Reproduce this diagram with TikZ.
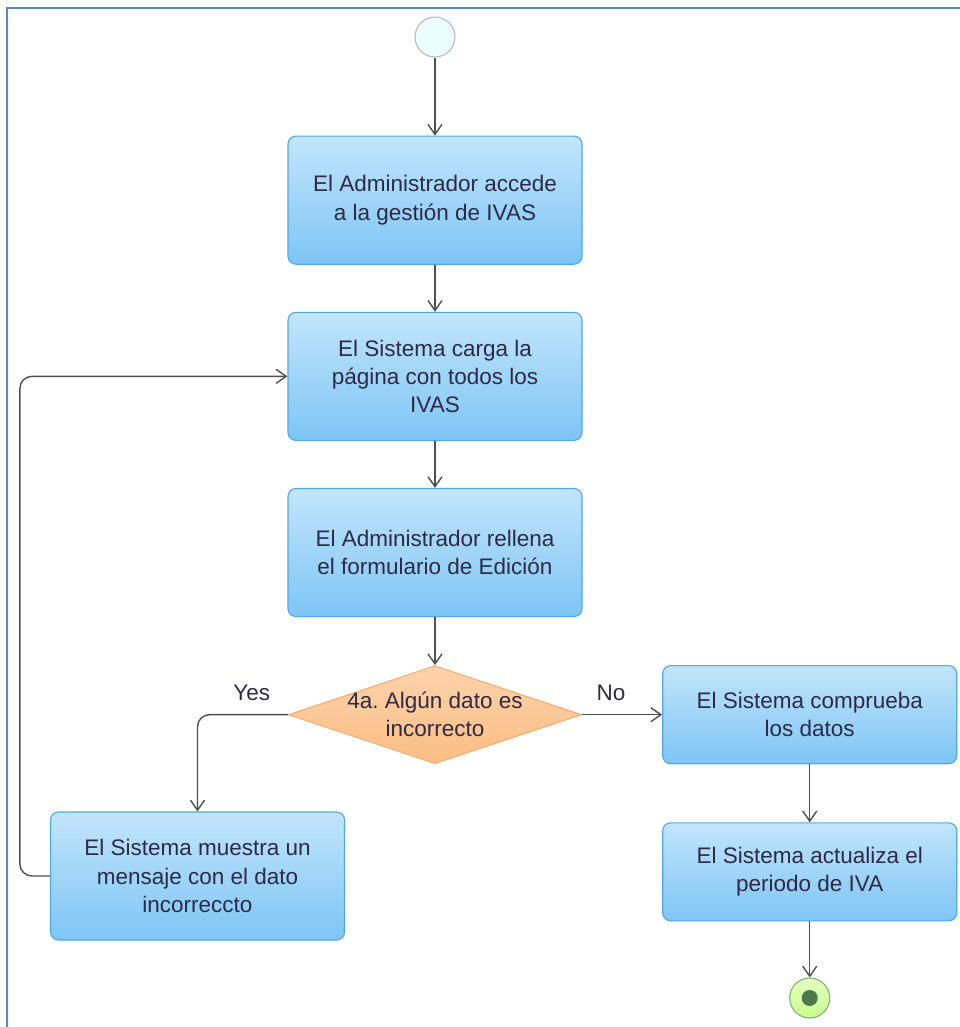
\documentclass[tikz,border=0pt]{standalone}
\usepackage{fontspec}
\setmainfont{Liberation Sans}
\usetikzlibrary{arrows.meta, positioning, shapes.geometric}

\definecolor{txtcol}{HTML}{2E2A45}
\definecolor{boxtop}{HTML}{C2E5FB}
\definecolor{boxbot}{HTML}{7DC5F5}
\definecolor{boxline}{HTML}{4FA8E8}
\definecolor{dectop}{HTML}{FDD3AA}
\definecolor{decbot}{HTML}{FBBD84}
\definecolor{decline}{HTML}{F7AE70}
\definecolor{flowcol}{HTML}{505050}
\definecolor{framecol}{HTML}{5B86C5}

\tikzset{
  accion/.style={draw=boxline, line width=0.8pt, rounded corners=0.2cm,
    top color=boxtop, bottom color=boxbot, text=txtcol, align=center,
    font=\fontsize{16}{20}\selectfont,
    minimum width=7.35cm, minimum height=3.2cm},
  decision/.style={diamond, draw=decline, line width=0.8pt,
    top color=dectop, bottom color=decbot, inner sep=0pt,
    minimum width=7.325cm, minimum height=2.45cm},
  dectext/.style={text=txtcol, align=center, font=\fontsize{16}{20}\selectfont},
  inicio/.style={circle, draw=blue!10!gray!50, fill=blue!10!cyan!8,
    line width=0.8pt, inner sep=0pt, minimum size=1cm},
  fin/.style={circle, draw=green!40!black!50, line width=0.8pt,
    top color=green!20!lime!25, bottom color=green!30!lime!45,
    inner sep=0pt, minimum size=1cm,
    path picture={\fill[green!25!black!70] (path picture bounding box.center) circle (0.2cm);}},
  flujo/.style={draw=flowcol, line width=1pt,
    -{Straight Barb[length=2.5mm, width=3.5mm]}},
  etiqueta/.style={text=txtcol, font=\fontsize{16}{20}\selectfont}
}

\begin{document}
\begin{tikzpicture}[x=0.025cm, y=-0.025cm]
  \useasboundingbox (0,0) rectangle (960,1027);
  \draw[framecol, line width=2pt] (7,1027) -- (7,8) -- (960,8);

  % main column
  \node[inicio] (start) at (435,37) {};
  \node[accion, below=1.95cm of start] (accede)
    {El Administrador accede\\a la gestión de IVAS};
  \node[accion, below=1.175cm of accede] (carga)
    {El Sistema carga la\\página con todos los\\IVAS};
  \node[accion, below=1.175cm of carga] (rellena)
    {El Administrador rellena\\el formulario de Edición};
  \node[decision, below=1.2cm of rellena,
        label={[dectext]center:{4a.\ Algún dato es\\incorrecto}}] (dato) {};

  % branch No
  \node[accion, minimum height=2.45cm, right=2cm of dato] (comprueba)
    {El Sistema comprueba\\los datos};
  \node[accion, minimum height=2.45cm, below=1.45cm of comprueba] (actualiza)
    {El Sistema actualiza el\\periodo de IVA};
  \node[fin, below=1.4cm of actualiza] (final) {};

  % branch Yes
  \node[accion] (mensaje) at (197.5,876)
    {El Sistema muestra un\\mensaje con el dato\\incorreccto};

  \draw[flujo] (start) -- (accede);
  \draw[flujo] (accede) -- (carga);
  \draw[flujo] (carga) -- (rellena);
  \draw[flujo] (rellena) -- (dato);
  \draw[flujo] (dato.east) -- node[etiqueta, pos=0.36, above=6pt] {No} (comprueba);
  \draw[flujo] (comprueba) -- (actualiza);
  \draw[flujo] (actualiza) -- (final);
  \draw[flujo, rounded corners=0.3cm] (dato.west) -| node[etiqueta, pos=0.2, above=6pt] {Yes} (mensaje.north);
  \draw[flujo, rounded corners=0.3cm] (mensaje.west) -- ++(-30,0) |- (carga.west);
\end{tikzpicture}
\end{document}
